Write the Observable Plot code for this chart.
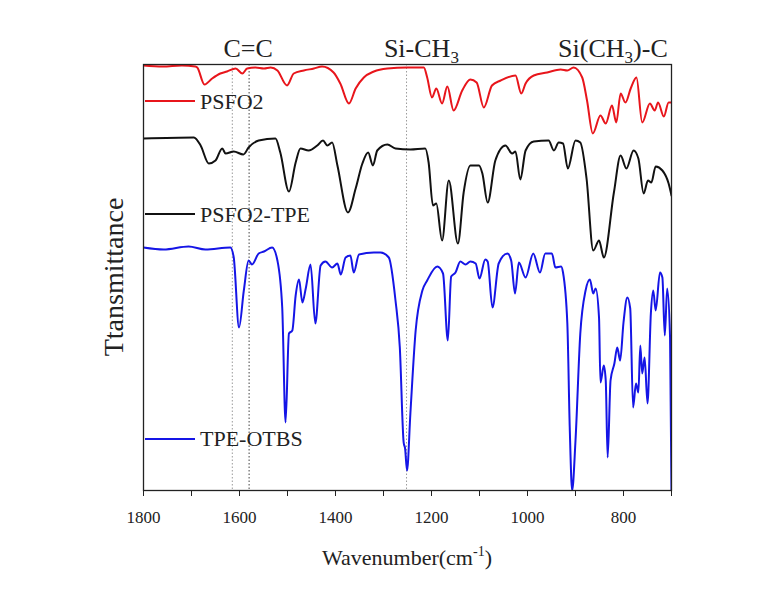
<!DOCTYPE html>
<html><head><meta charset="utf-8">
<script src="https://cdn.jsdelivr.net/npm/d3@7"></script>
<script src="https://cdn.jsdelivr.net/npm/@observablehq/plot@0.6"></script>
<style>
body{margin:0;background:#fff}
#chart svg, #chart svg text{font-family:'Liberation Serif','Times New Roman',serif !important}
</style>
</head><body><div id="chart"></div>
<script>
// Wavenumber (cm-1), transmittance (arbitrary, offset traces)
const psfo2 = [[1800,425],[1760,424],[1720,425],[1692,424],[1688,423],[1673,406],[1657,412],[1640,417],[1626,419],[1608,422],[1594,417],[1584,422],[1567,423],[1549,422],[1535,423],[1521,420],[1501,405],[1487,417],[1466,420],[1445,422],[1428,424],[1404,418],[1390,407],[1372,387],[1358,402],[1341,413],[1320,419],[1292,422],[1251,423],[1216,423],[1209,413],[1199,393],[1190,402],[1178,387],[1167,404],[1154,380],[1136,400],[1119,411],[1106,408],[1091,383],[1074,405],[1056,410],[1025,415],[1013,397],[1004,407],[987,415],[959,418],[931,421],[917,420],[904,423],[886,413],[876,390],[864,357],[848,375],[837,367],[824,385],[815,368],[806,397],[796,388],[785,402],[773,413],[761,368],[745,387],[735,380],[728,388],[716,374],[706,388],[700,388]];
const psfo2Tpe = [[1800,352],[1695,353],[1681,345],[1664,327],[1650,330],[1636,342],[1629,337],[1612,339],[1592,336],[1581,343],[1560,350],[1525,352],[1515,338],[1497,299],[1483,328],[1473,342],[1456,340],[1438,345],[1426,350],[1417,345],[1407,348],[1396,325],[1374,278],[1358,302],[1344,327],[1332,338],[1322,325],[1313,340],[1292,346],[1275,342],[1244,341],[1213,342],[1206,328],[1197,285],[1190,287],[1178,250],[1164,310],[1145,247],[1133,298],[1119,325],[1101,325],[1094,317],[1083,288],[1067,330],[1046,345],[1032,337],[1025,339],[1015,311],[1004,340],[987,349],[956,350],[945,340],[935,348],[926,347],[916,322],[900,350],[890,348],[877,312],[863,240],[851,250],[841,233],[820,298],[806,335],[794,322],[779,340],[769,332],[758,297],[749,310],[742,308],[733,324],[719,320],[706,307],[700,295]];
const tpeOtbs = [[1800,243],[1758,241],[1706,244],[1671,241],[1619,243],[1612,233],[1601,163],[1591,200],[1581,230],[1574,226],[1560,237],[1549,239],[1532,243],[1521,230],[1511,183],[1504,68],[1497,157],[1490,160],[1483,195],[1476,211],[1469,188],[1462,202],[1452,226],[1442,167],[1431,225],[1421,229],[1407,223],[1396,227],[1389,216],[1379,233],[1369,235],[1362,218],[1351,236],[1320,238],[1306,238],[1289,233],[1275,190],[1266,143],[1258,48],[1255,42],[1251,20],[1244,77],[1233,160],[1219,200],[1209,210],[1188,224],[1176,217],[1166,150],[1159,214],[1150,218],[1140,229],[1129,226],[1119,229],[1108,227],[1100,212],[1088,231],[1083,229],[1073,183],[1060,227],[1042,237],[1034,230],[1026,197],[1018,228],[1004,213],[988,237],[974,218],[963,237],[949,237],[942,223],[930,224],[926,218],[917,167],[912,63],[907,0],[900,50],[890,157],[879,200],[870,211],[863,197],[858,202],[851,173],[848,108],[841,125],[837,110],[833,33],[827,110],[819,127],[813,143],[807,130],[800,168],[792,193],[786,182],[780,83],[774,107],[769,98],[765,145],[761,117],[756,133],[750,87],[743,177],[738,200],[733,180],[724,218],[719,213],[714,155],[709,202],[703,153],[700,0]];

const seriesNames = ["PSFO2", "PSFO2-TPE", "TPE-OTBS"];
const seriesColors = ["#e8151b", "#111111", "#1515e6"];
const majorTicks = [1800, 1600, 1400, 1200, 1000, 800];
const minorTicks = [1700, 1500, 1300, 1100, 900, 700];
const guideLines = [1615, 1580, 1252];
const guideColors = ["#9a9a9a", "#444444", "#9a9a9a"];
// band labels: [main, subscript, tail, wavenumber]
const bandLabels = [["C=C", "", "", 1581], ["Si-CH", "3", "", 1220], ["Si(CH", "3", ")-C", 821]];

const font = "'Liberation Serif','Times New Roman',serif";
const toRows = (arr, name) => arr.map(([wn, t]) => ({wn, t, name}));

const plot = Plot.plot({
  width: 771, height: 592,
  marginLeft: 143, marginRight: 100, marginTop: 64, marginBottom: 102,
  style: {background: "#fff", color: "#222"},
  x: {domain: [1800, 700]},
  y: {domain: [0, 426], axis: null},
  marks: [
    Plot.ruleX(guideLines.map((g, i) => ({g, c: guideColors[i]})), {x: "g", stroke: "c", strokeWidth: 1, strokeDasharray: "1.5,2"}),
    Plot.line(toRows(psfo2, seriesNames[0]), {x: "wn", y: "t", stroke: seriesColors[0], strokeWidth: 2, curve: "monotone-x", clip: true}),
    Plot.line(toRows(psfo2Tpe, seriesNames[1]), {x: "wn", y: "t", stroke: seriesColors[1], strokeWidth: 2, curve: "monotone-x", clip: true}),
    Plot.line(toRows(tpeOtbs, seriesNames[2]), {x: "wn", y: "t", stroke: seriesColors[2], strokeWidth: 2, curve: "monotone-x", clip: true}),
    Plot.axisX({ticks: minorTicks, tickFormat: () => "", tickSize: 6, label: null}),
    Plot.axisX({ticks: majorTicks, tickFormat: d => String(d), tickSize: 6, tickPadding: 14, fontSize: 17, label: null}),
    Plot.frame({stroke: "#222", strokeWidth: 1.3})
  ]
});
document.getElementById("chart").append(plot);

const svg = d3.select(plot);
const xs = plot.scale("x");

// band labels above the frame
bandLabels.forEach(([main, sub, tail, wn]) => {
  const t = svg.append("text").attr("x", xs.apply(wn)).attr("y", 57)
    .attr("text-anchor", "middle").attr("font-family", font).attr("font-size", 26).attr("fill", "#222");
  t.append("tspan").text(main);
  if (sub) t.append("tspan").attr("font-size", 17).attr("dy", 6).text(sub);
  if (tail) t.append("tspan").attr("dy", -6).text(tail);
});

// legends inside the frame
const legendRows = [[101, 109], [214, 222], [439, 446]];
seriesNames.forEach((name, i) => {
  const [ly, ty] = legendRows[i];
  svg.append("line").attr("x1", 145).attr("x2", 195).attr("y1", ly).attr("y2", ly)
    .attr("stroke", seriesColors[i]).attr("stroke-width", 2);
  svg.append("text").attr("x", 200).attr("y", ty).attr("text-anchor", "start")
    .attr("font-family", font).attr("font-size", 22).attr("fill", "#222").text(name);
});

// axis titles
const xl = svg.append("text").attr("x", 407).attr("y", 565).attr("text-anchor", "middle")
  .attr("font-family", font).attr("font-size", 22).attr("fill", "#222");
xl.append("tspan").text("Wavenumber(cm");
xl.append("tspan").attr("font-size", 14).attr("dy", -9).text("-1");
xl.append("tspan").attr("dy", 9).text(")");

svg.append("text").attr("transform", "translate(123,277) rotate(-90)").attr("text-anchor", "middle")
  .attr("font-family", font).attr("font-size", 28).attr("fill", "#222").text("Ttansmittance");
</script>
</body></html>
